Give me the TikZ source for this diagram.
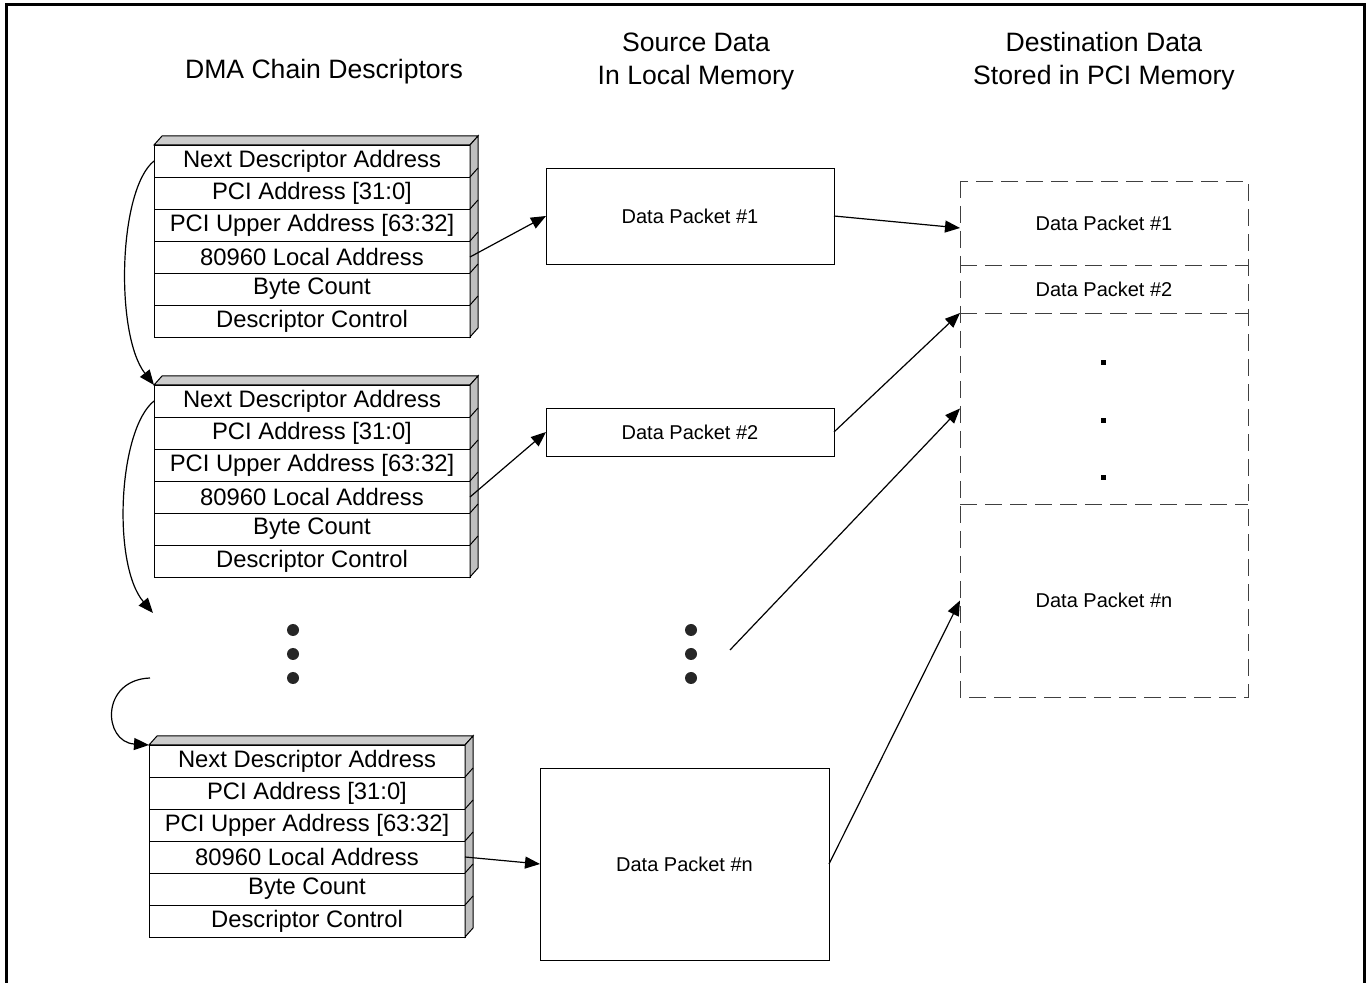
\documentclass[tikz,border=0pt]{standalone}
\usepackage{fontspec}
\setmainfont{Liberation Sans}
\usepackage{tikz}
\usetikzlibrary{arrows.meta, positioning, calc}

\tikzset{
  row/.style={draw, minimum width=158pt, minimum height=16pt, inner sep=0pt, outer sep=0pt,
    font=\fontsize{11.9}{13}\selectfont},
  packet/.style={draw, inner sep=0pt, outer sep=0pt, minimum width=144pt,
    font=\fontsize{10}{12}\selectfont},
  slot/.style={inner sep=0pt, outer sep=0pt, minimum width=144pt,
    font=\fontsize{10}{12}\selectfont},
  dashline/.style={draw=black!75, dash pattern=on 8.5pt off 4pt},
  heading/.style={align=center, font=\fontsize{13.3}{16.5}\selectfont},
  link/.style={-{Triangle[length=7.5pt,width=6pt]}, line width=0.6pt},
  bigdot/.style={circle, fill=black!85, inner sep=0pt, minimum size=6pt},
  smalldot/.style={rectangle, fill=black, inner sep=0pt, minimum size=2.5pt}
}

% descriptor block: name, left x, top y
\newcommand{\descblock}[3]{
  \foreach \txt [count=\i] in {Next Descriptor Address, PCI Address [31:0],
      PCI Upper Address [63:32], 80960 Local Address, Byte Count, Descriptor Control}
    \node[row] (#1-\i) at ({#2+158},{#3+16+32*(\i-1)}) {\txt};
  \filldraw[fill=gray!40, line width=0.5pt] (#1-1.north west) -- ++(8,-9)
    -- ([shift={(8,-9)}]#1-1.north east) -- (#1-1.north east) -- cycle;
  \filldraw[fill=gray!50, line width=0.5pt] (#1-1.north east) -- ++(8,-9)
    -- ([shift={(8,-9)}]#1-6.south east) -- (#1-6.south east) -- cycle;
  \foreach \i in {1,...,5}
    \draw[line width=0.5pt] (#1-\i.south east) -- ++(8,-9);
}

\begin{document}
\begin{tikzpicture}[x=0.5pt, y=-0.5pt]
  \useasboundingbox (0,0) rectangle (1366,983);
  \draw[line width=1.5pt] (6,983) -- (6,5) -- (1364,5) -- (1364,983);

  % headings
  \node[heading] (hdesc) at (324,72) {DMA Chain Descriptors};
  \node[heading] (hsrc) at (696,61) {Source Data\\In Local Memory};
  \node[heading] (hdst) at (1104,61) {Destination Data\\Stored in PCI Memory};

  % descriptors
  \descblock{da}{154}{145}
  \descblock{db}{154}{385}
  \descblock{dc}{149}{745}

  % source data
  \node[packet, minimum height=48pt] (src1) at (690,216) {Data Packet \#1};
  \node[packet, minimum height=24pt] (src2) at (690,432) {Data Packet \#2};
  \node[packet, minimum width=144.5pt, minimum height=96pt] (srcn) at (684.5,864) {Data Packet \#n};

  % destination data
  \node[slot, minimum height=42pt] (dst1) at (1104,223) {Data Packet \#1};
  \node[slot, minimum height=24pt] (dst2) at (1104,289) {Data Packet \#2};
  \node[slot, minimum height=95.5pt] (dstdots) at (1104,408.5) {};
  \node[slot, minimum height=96.5pt] (dstn) at (1104,600.5) {Data Packet \#n};
  \draw[dashline] (dst1.north west) rectangle (dstn.south east);
  \draw[dashline] (dst1.south west) -- (dst1.south east);
  \draw[dashline] (dst2.south west) -- (dst2.south east);
  \draw[dashline] (dstdots.south west) -- (dstdots.south east);
  \foreach \y [count=\k] in {363,421,478}
    \node[smalldot] (sq\k) at (1103,\y) {};

  % dots
  \foreach \y [count=\k] in {630,654,678} {
    \node[bigdot] (ldot\k) at (293,\y) {};
    \node[bigdot] (mdot\k) at (691,\y) {};
  }

  \coordinate (chainend) at (153,613);
  \coordinate (chainstart) at (150,678);
  \coordinate (gap) at (730,650);

  % chain links
  \draw[link] (da-1.west) .. controls (118,190) and (115,335) .. (db-1.north west);
  \draw[link] (db-1.west) .. controls (118,430) and (112,565) .. (chainend);
  \draw[link] (chainstart) .. controls (100,680) and (103,742) .. (dc-1.north west);

  % address pointers
  \draw[link] (da-4.east) -- (src1.west);
  \draw[link] (db-4.east) -- (src2.west);
  \draw[link] (dc-4.east) -- (srcn.west);

  % transfers
  \draw[link] (src1.east) -- ([yshift=-2.5pt]dst1.west);
  \draw[link] (src2.east) -- (dst2.south west);
  \draw[link] (gap) -- (dstdots.west);
  \draw[link] (srcn.east) -- (dstn.west);
\end{tikzpicture}
\end{document}
